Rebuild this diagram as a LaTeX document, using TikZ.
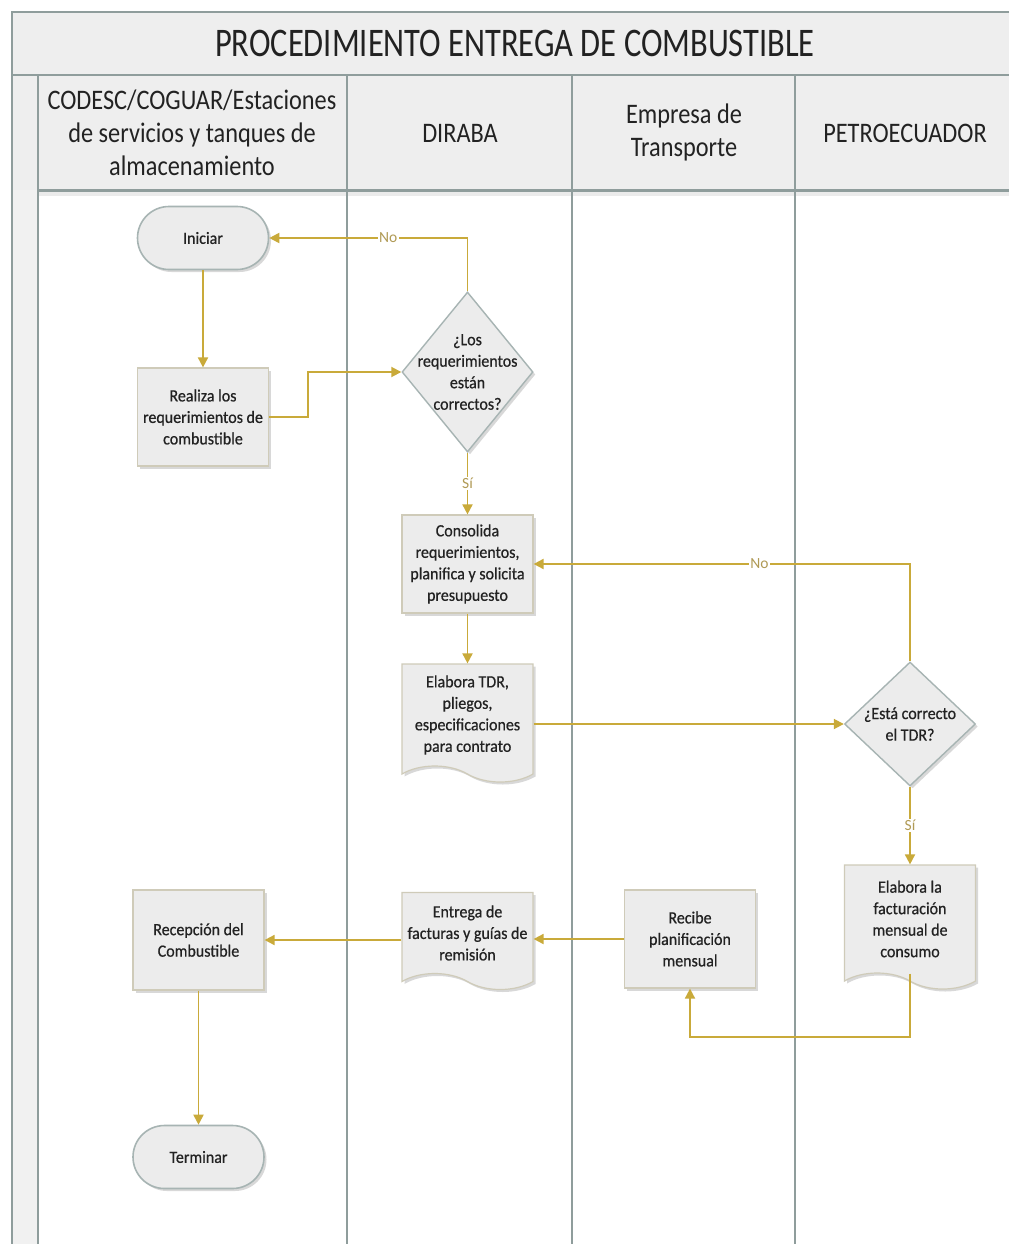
\documentclass[tikz,border=0pt]{standalone}
\usepackage{fontspec}
\setmainfont{Carlito}
\newfontfamily\titlefont[FakeStretch=0.8]{Carlito}
\newfontfamily\hdrfont[FakeStretch=0.86]{Carlito}
\newfontfamily\nodefont[FakeStretch=0.93,FakeBold=0.6]{Carlito}
\usetikzlibrary{shapes.geometric,shapes.symbols,shapes.misc,arrows.meta,shadows,calc}
\definecolor{gold}{HTML}{C9AA3A}
\definecolor{lanec}{HTML}{8F9D9C}
\definecolor{shapefill}{HTML}{ECECEC}
\definecolor{termline}{HTML}{A7B4B3}
\definecolor{boxline}{HTML}{CFCBB9}
\definecolor{lbl}{HTML}{B09A55}
\definecolor{txt}{HTML}{222222}
\definecolor{band}{HTML}{EEEEEE}
\definecolor{strip}{HTML}{F1F1F1}
\begin{document}
\begin{tikzpicture}[x=1pt,y=-1pt,
 every node/.style={text=txt},
 base/.style={fill=shapefill, font=\nodefont\fontsize{17.2}{21.5}\selectfont, align=center, inner sep=0pt,
   drop shadow={opacity=0.3, shadow xshift=2.5pt, shadow yshift=-2.5pt}},
 term/.style={base, rounded rectangle, draw=termline, line width=1.6pt, minimum width=131pt, minimum height=63pt},
 proc/.style={base, rectangle, draw=boxline, line width=1.2pt, minimum width=131pt, minimum height=98pt},
 dec/.style={base, diamond, draw=termline, line width=1.4pt, minimum width=131pt, minimum height=160pt},
 dectext/.style={font=\nodefont\fontsize{17.2}{21.5}\selectfont, align=center, inner sep=0pt},
 docu/.style={base, tape, tape bend top=none, tape bend bottom=out and in, tape bend height=16pt,
   draw=boxline, line width=1.2pt, minimum width=131pt},
 flow/.style={draw=gold, line width=1.8pt, -{Triangle[length=10pt,width=10pt]}},
 yn/.style={fill=white, text=lbl, font=\fontsize{15.5}{15.5}\selectfont, inner sep=1.5pt},
 lanerule/.style={draw=lanec, line width=2.2pt},
 hdr/.style={font=\hdrfont\fontsize{28.3}{33}\selectfont, align=center},
]
\useasboundingbox (0,0) rectangle (1009,1244);
% background bands
\fill[band] (12,12) rectangle (1009,190);
\fill[strip] (12,190) rectangle (38,1244);
\fill[white] (38,190) rectangle (1009,1244);
\fill[black, opacity=0.08] (38,191) rectangle (1009,196);
% lines
\draw[lanerule] (1009,12) -- (12,12) -- (12,1244);
\draw[lanerule] (12,75) -- (1009,75);
\draw[lanerule, line width=3pt] (38,190) -- (1009,190);
\foreach \lx in {38,347,572,795} {\draw[lanerule] (\lx,75) -- (\lx,1244);}
% titles
\node[font=\titlefont\fontsize{40.6}{40}\selectfont] (title) at (515,43) {PROCEDIMIENTO ENTREGA DE COMBUSTIBLE};
\node[hdr] (h1) at (192,133) {CODESC/COGUAR/Estaciones\\de servicios y tanques de\\almacenamiento};
\node[hdr] (h2) at (460,133) {DIRABA};
\node[hdr] (h3) at (684,132) {Empresa de\\Transporte};
\node[hdr] (h4) at (905,133) {PETROECUADOR};
% shapes
\node[term] (ini) at (203,238) {Iniciar};
\node[proc] (rea) at (203,417) {Realiza los\\requerimientos de\\combustible};
\node[dec, label={[dectext, name=d1t]center:{¿Los\\requerimientos\\están\\correctos?}}] (d1) at (467.5,372) {};
\node[proc] (con) at (467.5,564) {Consolida\\requerimientos,\\planifica y solicita\\presupuesto};
\node[docu, minimum height=118pt] (tdr) at (467.5,715) {Elabora TDR,\\pliegos,\\especificaciones\\para contrato};
\node[dec, minimum height=124pt, label={[dectext, name=d2t]center:{¿Está correcto\\el TDR?}}] (d2) at (910,724) {};
\node[docu, minimum height=124pt] (fac) at (910,919) {Elabora la\\facturación\\mensual de\\consumo};
\node[proc] (rec) at (690,939) {Recibe\\planificación\\mensual};
\node[docu, minimum height=97pt] (ent) at (467.5,933) {Entrega de\\facturas y guías de\\remisión};
\node[proc, minimum height=100pt] (recp) at (198.5,940) {Recepción del\\Combustible};
\node[term] (ter) at (198.5,1157) {Terminar};
\coordinate (loop) at (910,1037);
% connectors
\draw[flow] (ini.south) -- (rea.north);
\draw[flow] (rea.east) -- ++(39,0) |- (d1.west);
\draw[flow] (d1.north) |- node[yn, pos=0.7] (no1) {No} (ini.east);
\draw[flow] (d1.south) -- node[yn] (si1) {Sí} (con.north);
\draw[flow] (con.south) -- (tdr.north);
\draw[flow] (tdr.east |- d2.west) -- (d2.west);
\draw[flow] (d2.north) |- node[yn, pos=0.7] (no2) {No} (con.east);
\draw[flow] (d2.south) -- node[yn] (si2) {Sí} (fac.north);
\draw[flow] (fac.south) -- (loop) -| (rec.south);
\draw[flow] (rec.west) -- (rec.west -| ent.east);
\draw[flow] (ent.west |- recp.east) -- (recp.east);
\draw[flow] (recp.south) -- (ter.north);
\end{tikzpicture}
\end{document}
